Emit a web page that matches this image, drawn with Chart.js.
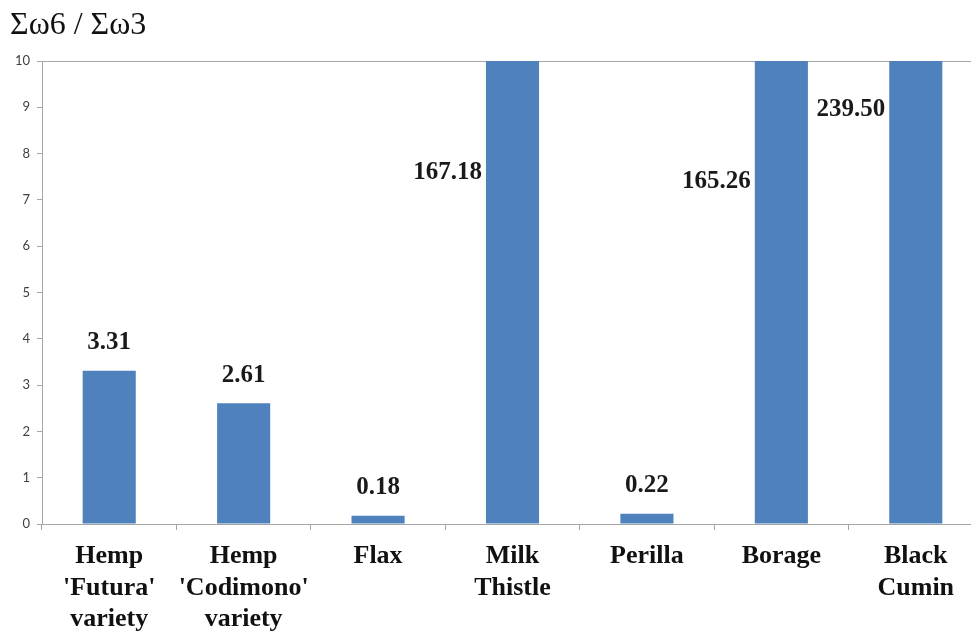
<!DOCTYPE html>
<html>
<head>
<meta charset="utf-8">
<script src="https://cdn.jsdelivr.net/npm/chart.js@4/dist/chart.umd.min.js"></script>
<style>
  html, body { margin: 0; padding: 0; background: #ffffff; overflow: hidden; }
  #wrap { width: 983px; height: 634px; }
</style>
</head>
<body>
<div id="wrap"><canvas id="chart" width="983" height="634"></canvas></div>
<script>
// Omega-6 / omega-3 ratio of seed oils
const categories = [
  ["Hemp", "'Futura'", "variety"],
  ["Hemp", "'Codimono'", "variety"],
  ["Flax"],
  ["Milk", "Thistle"],
  ["Perilla"],
  ["Borage"],
  ["Black", "Cumin"]
];
const ratios = [3.31, 2.61, 0.18, 167.18, 0.22, 165.26, 239.50];
const yTicks = [0, 1, 2, 3, 4, 5, 6, 7, 8, 9, 10];

const AXIS_MAX = yTicks[yTicks.length - 1];
const BAR_BLUE = '#4F81BD';
const AXIS_GREY = '#a6a6a6';

// Value labels: above each bar, or beside the bar when it runs past the axis top
const valueLabels = {
  id: 'valueLabels',
  afterDatasetsDraw(chart, args, opts) {
    const ctx = chart.ctx;
    const meta = chart.getDatasetMeta(0);
    const yScale = chart.scales.y;
    ctx.save();
    ctx.font = opts.font;
    ctx.fillStyle = opts.color;
    ctx.textBaseline = 'middle';
    meta.data.forEach((bar, i) => {
      const v = ratios[i];
      const text = v.toFixed(2);
      if (v <= AXIS_MAX) {
        ctx.textAlign = 'center';
        ctx.fillText(text, bar.x, bar.y - opts.offset);
      } else {
        const at = opts.sideAt[i];
        ctx.textAlign = 'right';
        ctx.fillText(text, bar.x - bar.width / 2 - opts.gap, yScale.getPixelForValue(at));
      }
    });
    ctx.restore();
  }
};

new Chart(document.getElementById('chart'), {
  type: 'bar',
  data: {
    labels: categories,
    datasets: [{
      data: ratios,
      backgroundColor: BAR_BLUE,
      borderWidth: 0,
      categoryPercentage: 1.0,
      barPercentage: 0.395
    }]
  },
  options: {
    responsive: false,
    animation: false,
    layout: { padding: { left: 10, right: 0, top: 0, bottom: 0 } },
    plugins: {
      legend: { display: false },
      tooltip: { enabled: false },
      title: {
        display: true,
        text: 'Σω6 / Σω3',
        align: 'start',
        color: '#111111',
        font: { family: 'Liberation Serif', size: 32, weight: 'normal', lineHeight: 1.2 },
        padding: { top: 6, bottom: 16.6 }
      },
      valueLabels: {
        font: 'bold 25px "Liberation Serif"',
        color: '#1a1a1a',
        offset: 28,
        gap: 4,
        sideAt: { 3: 7.6, 5: 7.4, 6: 8.95 }
      }
    },
    scales: {
      x: {
        grid: {
          offset: true,
          drawOnChartArea: false,
          drawTicks: true,
          tickLength: 6,
          tickColor: AXIS_GREY
        },
        border: { color: AXIS_GREY, width: 1 },
        ticks: {
          color: '#111111',
          padding: 11,
          maxRotation: 0,
          autoSkip: false,
          font: { family: 'Liberation Serif', size: 26, weight: 'bold', lineHeight: 1.2 }
        },
        afterFit(scale) { scale.height = 110; }
      },
      y: {
        min: 0,
        max: AXIS_MAX,
        afterBuildTicks(scale) { scale.ticks = yTicks.map(v => ({ value: v })); },
        grid: {
          drawTicks: true,
          tickLength: 5,
          tickColor: AXIS_GREY,
          color: (c) => (c.tick && c.tick.value === AXIS_MAX) ? AXIS_GREY : 'rgba(0,0,0,0)'
        },
        border: { color: AXIS_GREY, width: 1 },
        ticks: {
          color: '#404040',
          padding: 7,
          font: { family: 'Lato', size: 13 }
        },
        afterFit(scale) { scale.width = 32; }
      }
    }
  },
  plugins: [valueLabels]
});
</script>
</body>
</html>
